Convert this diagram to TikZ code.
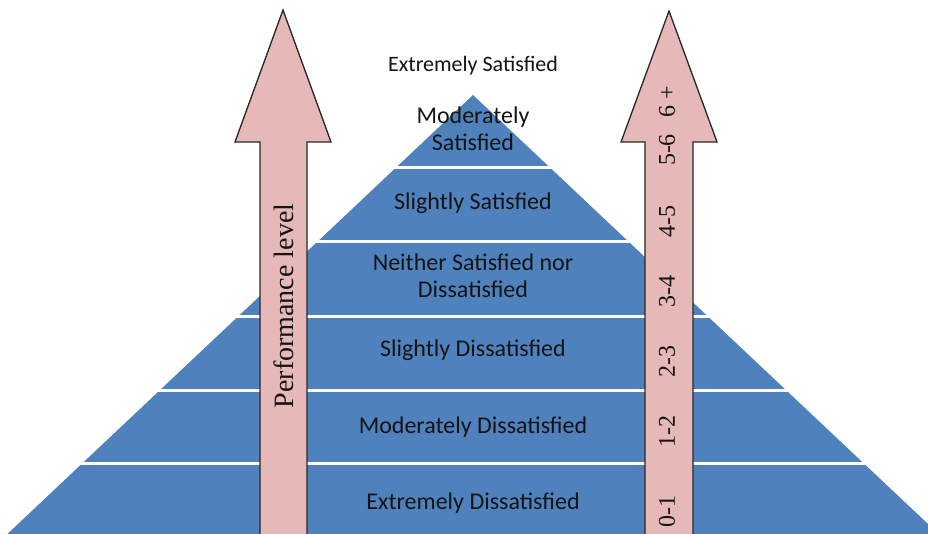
\documentclass[tikz,border=0pt]{standalone}
\usepackage{fontspec}
\setmainfont{Carlito}
\newfontfamily\timesfont{Liberation Serif}
\usepackage{xcolor}
\usepackage{tikz}

\definecolor{pyrblue}{HTML}{4F81BD}
\definecolor{arrpink}{HTML}{E6B9B8}
\definecolor{arrline}{HTML}{262626}

\begin{document}
\begin{tikzpicture}[
  x=1pt, y=-1pt,
  lvl/.style      = {font=\fontsize{24}{27}\selectfont, align=center,
                     text=black!92, inner sep=0pt},
  arrowbody/.style = {draw=arrline, fill=arrpink, line width=1.3pt,
                      line join=miter},
  scalelbl/.style = {font=\timesfont\fontsize{24}{24}\selectfont,
                     rotate=90, inner sep=0pt, text=black!92},
]

\path[use as bounding box, clip] (0,0) rectangle (928,533);

%% pyramid body
\fill[pyrblue] (473,95) -- (1,540) -- (945,540) -- cycle;

%% white gaps between the layers
\foreach \yy in {167, 241, 316, 390, 463}
  \draw[white, line width=3pt] (0,\yy) -- (928,\yy);

%% level arrows
\draw[arrowbody] (260,545) -- (260,142) -- (235,142) -- (283,10)
  -- (331,142) -- (307,142) -- (307,545) -- cycle;
\draw[arrowbody] (645,545) -- (645,142) -- (621,142) -- (669,11)
  -- (717,142) -- (693,142) -- (693,545) -- cycle;

%% satisfaction levels
\node[lvl, font=\fontsize{22}{26}\selectfont] (lvl7) at (473,66)
  {Extremely Satisfied};
\foreach \yy/\txt [count=\k] in {
    503/{Extremely Dissatisfied},
    427/{Moderately Dissatisfied},
    350/{Slightly Dissatisfied},
    276/{Neither Satisfied nor\\Dissatisfied},
    203/{Slightly Satisfied},
    129/{Moderately\\Satisfied}}
  \node[lvl] (lvl\k) at (473,\yy) {\txt};

%% performance axis
\node[scalelbl, font=\timesfont\fontsize{28}{28}\selectfont] (perf)
  at (284,306) {Performance level};

%% scale values
\foreach \yy/\val [count=\k] in {511/0-1, 431/1-2, 361/2-3, 291/3-4,
                                 221/4-5, 150/5-6, 102/{6 +}}
  \node[scalelbl] (val\k) at (667,\yy) {\val};

\end{tikzpicture}
\end{document}
